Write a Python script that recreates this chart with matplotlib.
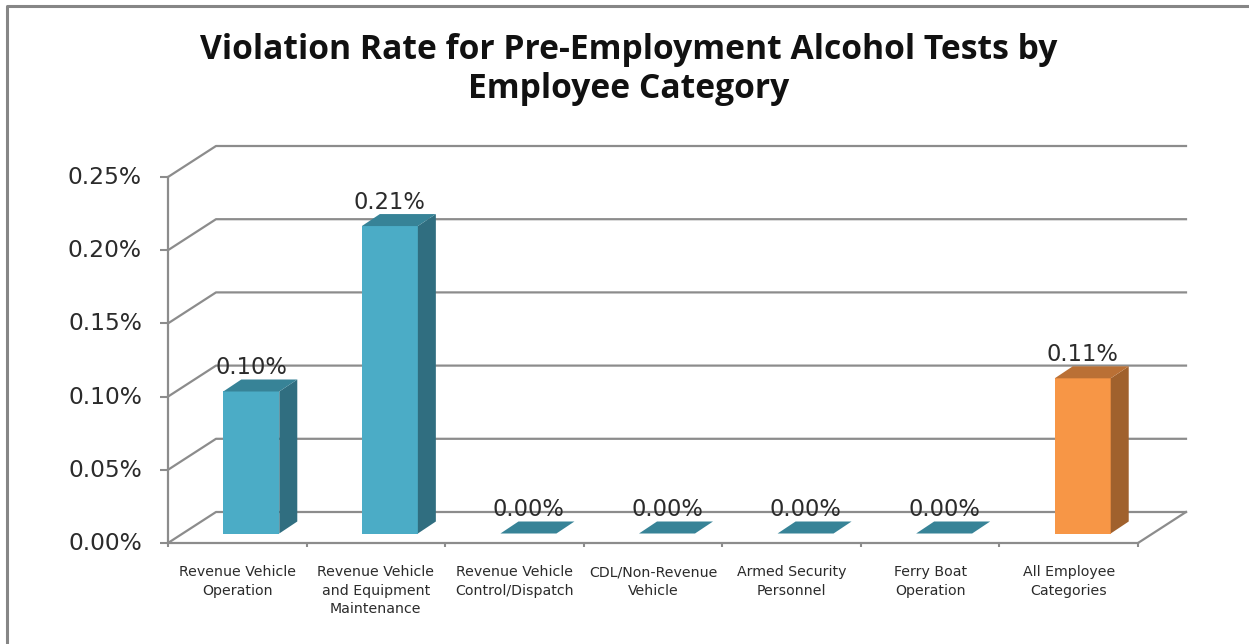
import matplotlib
matplotlib.use("Agg")
import matplotlib.pyplot as plt
import matplotlib.patches as patches
from matplotlib.ticker import FixedLocator, NullFormatter
from matplotlib.transforms import ScaledTranslation

categories = [
    "Revenue Vehicle\nOperation",
    "Revenue Vehicle\nand Equipment\nMaintenance",
    "Revenue Vehicle\nControl/Dispatch",
    "CDL/Non-Revenue\nVehicle",
    "Armed Security\nPersonnel",
    "Ferry Boat\nOperation",
    "All Employee\nCategories",
]
rates = [0.097, 0.21, 0.0, 0.0, 0.0, 0.0, 0.106]
rate_labels = ["0.10%", "0.21%", "0.00%", "0.00%", "0.00%", "0.00%", "0.11%"]
y_ticks = [0.0, 0.05, 0.10, 0.15, 0.20, 0.25]
y_tick_labels = ["0.00%", "0.05%", "0.10%", "0.15%", "0.20%", "0.25%"]
title = "Violation Rate for Pre-Employment Alcohol Tests by\nEmployee Category"

COLORS = {
    'grid': '#8c8c8c',
    'frame': '#868686',
    'text': '#2b2b2b',
    'teal': ('#4BACC6', '#378397', '#306E80'),
    'orange': ('#F79646', '#BA7035', '#A0612D'),
}

W, H = 1249, 644
fig = plt.figure(figsize=(W / 100, H / 100), dpi=100)
plt.rcParams['font.family'] = ['DejaVu Sans']

# outer chart frame
fig.add_artist(plt.Line2D([7 / W, 7 / W, 1], [0, 1 - 6 / H, 1 - 6 / H],
                          color=COLORS['frame'], lw=2.2))

# axes rectangle is the front plane of the 3D box, in pixels
left, right, top, bottom = 168, 1138, 177, 543
ax = fig.add_axes([left / W, 1 - bottom / H, (right - left) / W, (bottom - top) / H])
ax.set_xlim(0, len(categories))
ax.set_ylim(0, 0.25)
ax.patch.set_alpha(0)

# oblique depth offsets converted to data units
x_per_px = len(categories) / (right - left)
y_per_px = 0.25 / (bottom - top)
depth_x, depth_y = 48 * x_per_px, 31 * y_per_px
bar_w = 56 * x_per_px
bar_dx, bar_dy = 18 * x_per_px, 12 * y_per_px
inset_x, inset_y = 14 * x_per_px, 9.5 * y_per_px
n = len(categories)

for tick in y_ticks:
    ax.plot([0, depth_x, n + depth_x], [tick, tick + depth_y, tick + depth_y],
            color=COLORS['grid'], lw=1.6, clip_on=False, zorder=1)
ax.plot([n, n + depth_x], [0, depth_y], color=COLORS['grid'], lw=1.6, clip_on=False, zorder=1)

for i, (rate, label) in enumerate(zip(rates, rate_labels)):
    front, top_col, side = COLORS['orange'] if i == n - 1 else COLORS['teal']
    x0 = i + 0.5 - bar_w / 2 + inset_x
    x1 = x0 + bar_w
    y0 = inset_y
    y1 = inset_y + rate
    if rate > 0:
        ax.bar(x0, rate, width=bar_w, bottom=y0, align='edge', color=front, zorder=3)
        ax.add_patch(patches.Polygon([(x1, y0), (x1 + bar_dx, y0 + bar_dy),
                                      (x1 + bar_dx, y1 + bar_dy), (x1, y1)],
                                     facecolor=side, edgecolor='none', zorder=3, clip_on=False))
    ax.add_patch(patches.Polygon([(x0, y1), (x1, y1), (x1 + bar_dx, y1 + bar_dy),
                                  (x0 + bar_dx, y1 + bar_dy)],
                                 facecolor=top_col, edgecolor='none', zorder=3, clip_on=False))
    ax.annotate(label, xy=((x0 + x1) / 2, y1 + bar_dy), xytext=(0, 0.3), textcoords='offset points',
                ha='center', va='bottom', fontsize=16.3, color=COLORS['text'], zorder=4,
                annotation_clip=False)

for name in ('top', 'right'):
    ax.spines[name].set_visible(False)
for name in ('left', 'bottom'):
    ax.spines[name].set_color(COLORS['grid'])
    ax.spines[name].set_linewidth(1.6)

ax.set_yticks(y_ticks)
ax.set_yticklabels(y_tick_labels, fontsize=16.8, color=COLORS['text'])
ax.tick_params(axis='y', length=5.8, width=1.5, color=COLORS['grid'], pad=13)
shift_up = ScaledTranslation(0, 2 / 100, fig.dpi_scale_trans)
for lab in ax.get_yticklabels():
    lab.set_transform(lab.get_transform() + shift_up)

ax.xaxis.set_major_locator(FixedLocator(range(n + 1)))
ax.xaxis.set_major_formatter(NullFormatter())
ax.set_xticks([i + 0.5 for i in range(n)], minor=True)
ax.set_xticklabels(categories, minor=True, fontsize=10.2, color=COLORS['text'], linespacing=1.4)
ax.tick_params(axis='x', which='major', length=3, width=1.5, color=COLORS['grid'])
ax.tick_params(axis='x', which='minor', length=0, pad=16)

fig.text(629 / W, 1 - 69.5 / H, title, ha='center', va='center', fontsize=24.2, weight='bold',
         family=['Open Sans', 'DejaVu Sans'], color='#111111', linespacing=1.2)

fig.savefig("out.png", dpi=100, facecolor='white')
plt.close(fig)
